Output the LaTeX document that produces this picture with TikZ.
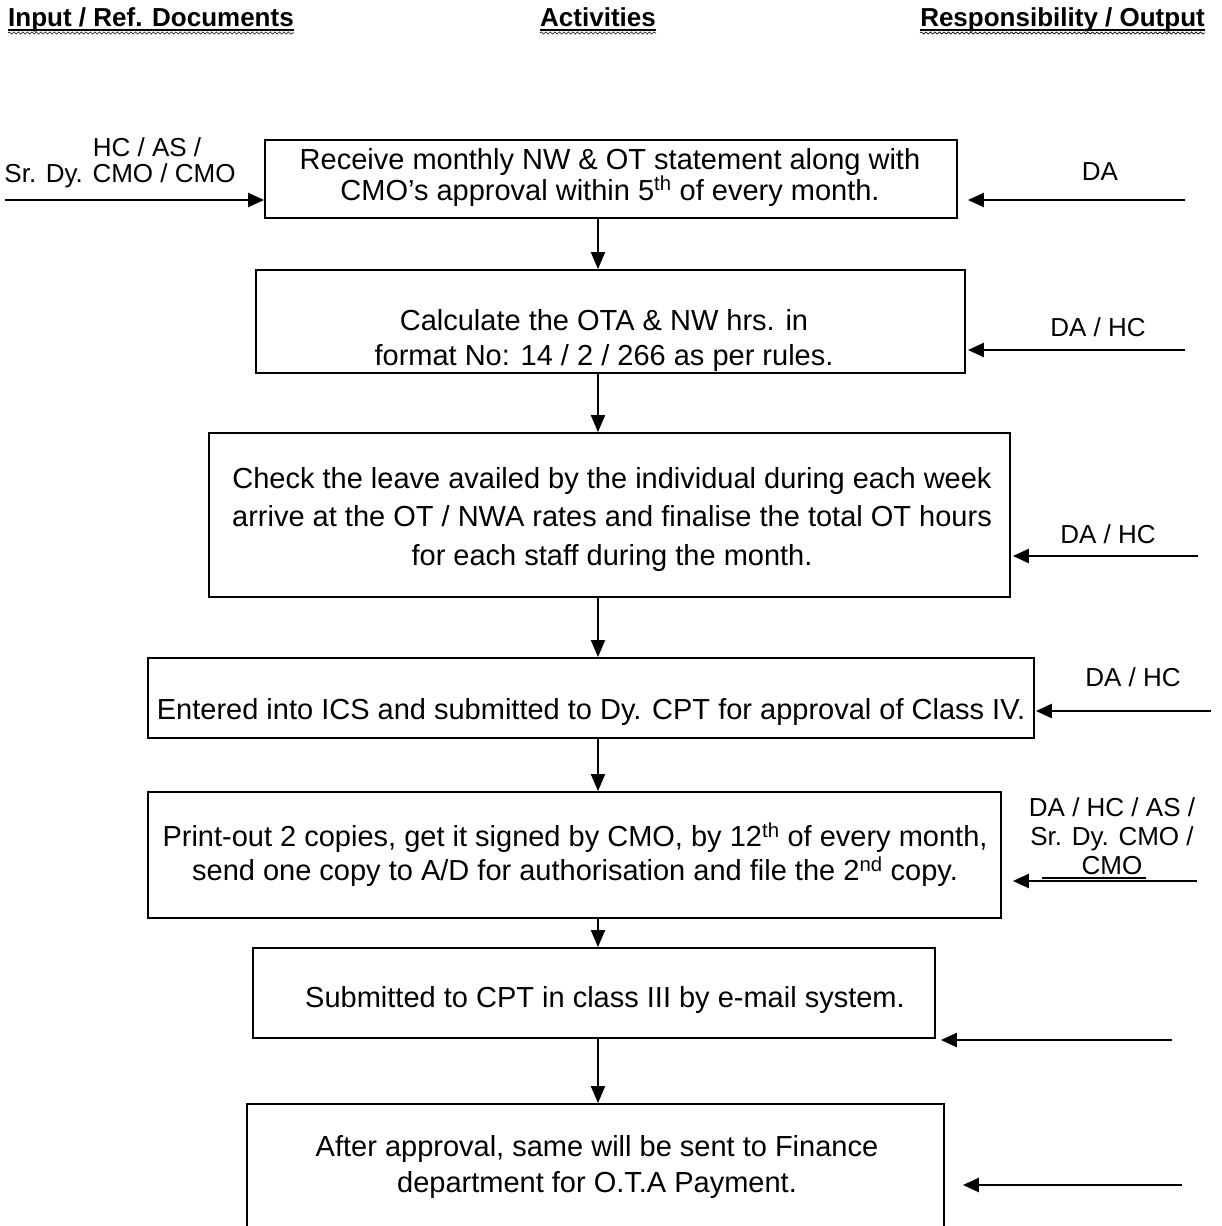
\documentclass[tikz,border=0pt]{standalone}
\usepackage{fontspec}
\setmainfont{Liberation Sans}
\usetikzlibrary{arrows.meta,decorations.pathmorphing}
\begin{document}
\begin{tikzpicture}[x=1pt,y=-1pt,
  box/.style={draw,line width=1.8pt,inner sep=0},
  txt/.style={font=\fontsize{29}{35}\selectfont,align=center,inner sep=0},
  side/.style={font=\fontsize{26}{29}\selectfont,align=center,inner sep=0},
  hdr/.style={font=\fontsize{26}{30}\selectfont\bfseries,inner sep=0,anchor=base},
  arr/.style={-{Triangle[length=16pt,width=14pt]},line width=2.4pt},
  varr/.style={-{Triangle[length=17pt,width=14pt]},line width=1.9pt},
  wavy/.style={decorate,decoration={snake,amplitude=1.1pt,segment length=4.5pt},line width=0.6pt}]
\useasboundingbox (0,0) rectangle (1222,1226);
\clip (0,0) rectangle (1222,1226);

% headers
\node[hdr,anchor=base west] (h1) at (8,27) {Input / Ref. Documents};
\node[hdr] (h2) at (598,27) {Activities};
\node[hdr,anchor=base east] (h3) at (1205,27) {Responsibility / Output};
\foreach \h in {h1,h2,h3}{
  \draw[line width=1.4pt] ([yshift=-3pt]\h.base west) -- ([yshift=-3pt]\h.base east);
  \draw[wavy] ([yshift=-6pt]\h.base west) -- ([yshift=-6pt]\h.base east);
}

% boxes
\node[box,minimum width=692pt,minimum height=78pt] (b1) at (611,179) {};
\node[box,minimum width=709pt,minimum height=103pt] (b2) at (610.5,321.5) {};
\node[box,minimum width=801pt,minimum height=164pt] (b3) at (609.5,515) {};
\node[box,minimum width=886pt,minimum height=80pt] (b4) at (591,698) {};
\node[box,minimum width=853pt,minimum height=126pt] (b5) at (574.5,855) {};
\node[box,minimum width=682pt,minimum height=90pt] (b6) at (594,993) {};
\node[box,minimum width=697pt,minimum height=136pt] (b7) at (595.5,1172) {};

% box texts
\node[txt,font=\fontsize{29}{31}\selectfont] (t1) at (610,177) {Receive monthly NW \& OT statement along with\\CMO’s approval within 5\textsuperscript{th} of every month.};
\node[txt] (t2) at (604,340) {Calculate the OTA \& NW hrs. in\\format No: 14 / 2 / 266 as per rules.};
\node[txt,font=\fontsize{29}{38.5}\selectfont] (t3) at (612,519) {Check the leave availed by the individual during each week\\arrive at the OT / NWA rates and finalise the total OT hours\\for each staff during the month.};
\node[txt] (t4) at (591,712) {Entered into ICS and submitted to Dy. CPT for approval of Class IV.};
\node[txt,font=\fontsize{29}{34}\selectfont] (t5) at (575,855) {Print-out 2 copies, get it signed by CMO, by 12\textsuperscript{th} of every month,\\send one copy to A/D for authorisation and file the 2\textsuperscript{nd} copy.};
\node[txt] (t6) at (605,1000) {Submitted to CPT in class III by e-mail system.};
\node[txt,font=\fontsize{29}{36}\selectfont] (t7) at (597,1167) {After approval, same will be sent to Finance\\department for O.T.A Payment.};

% vertical connectors
\coordinate (ax) at (598,0);
\draw[varr] (b1.south -| ax) -- (b2.north -| ax);
\draw[varr] (b2.south -| ax) -- (b3.north -| ax);
\draw[varr] (b3.south -| ax) -- (b4.north -| ax);
\draw[varr] (b4.south -| ax) -- (b5.north -| ax);
\draw[varr] (b5.south -| ax) -- (b6.north -| ax);
\draw[varr] (b6.south -| ax) -- (b7.north -| ax);

% left input
\node[side,font=\fontsize{26}{26}\selectfont] (in1) at (120,163) {\hspace*{54pt}HC / AS /\\Sr. Dy. CMO / CMO};
\coordinate (l1) at (5,200);
\draw[arr] (l1) -- (b1.west |- l1);

% right side labels and arrows
\node[side] (r1l) at (1100,172) {DA};
\coordinate (r1) at (1185,200);
\draw[arr,shorten >=10pt] (r1) -- (b1.east |- r1);

\node[side] (r2l) at (1098,327) {DA / HC};
\coordinate (r2) at (1185,350);
\draw[arr,shorten >=2pt] (r2) -- (b2.east |- r2);

\node[side] (r3l) at (1108,534) {DA / HC};
\coordinate (r3) at (1198,556);
\draw[arr,shorten >=2pt] (r3) -- (b3.east |- r3);

\node[side] (r4l) at (1133,677) {DA / HC};
\coordinate (r4) at (1211,711);
\draw[arr,shorten >=1pt] (r4) -- (b4.east |- r4);

\node[side] (r5l) at (1112,836) {DA / HC / AS /\\Sr. Dy. CMO /\\CMO};
\draw[line width=1.4pt] (1042,878) -- (1146,878);
\coordinate (r5) at (1197,881);
\draw[arr,shorten >=11pt] (r5) -- (b5.east |- r5);

\coordinate (r6) at (1172,1040);
\draw[arr,shorten >=5pt] (r6) -- (b6.east |- r6);

\coordinate (r7) at (1182,1185);
\draw[arr,shorten >=18pt] (r7) -- (b7.east |- r7);
\end{tikzpicture}
\end{document}
